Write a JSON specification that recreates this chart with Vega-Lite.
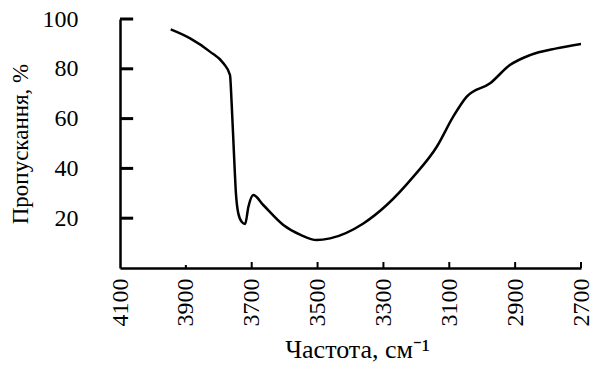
{
  "$schema": "https://vega.github.io/schema/vega-lite/v6.json",
  "autosize": {"type": "none"},
  "width": 461,
  "height": 249,
  "padding": {"left": 120, "top": 19, "right": 21, "bottom": 99},
  "background": "white",
  "config": {"view": {"stroke": null}, "font": "Liberation Serif"},
  "datasets": {
    "curve": [
      {"v": 3946, "t": 95.8},
      {"v": 3887, "t": 92.2},
      {"v": 3827, "t": 86.9},
      {"v": 3786, "t": 82.2},
      {"v": 3766, "t": 77.5},
      {"v": 3761, "t": 66.3},
      {"v": 3754, "t": 46.2},
      {"v": 3748, "t": 30.1},
      {"v": 3741, "t": 22.1},
      {"v": 3730, "t": 18.5},
      {"v": 3720, "t": 17.7},
      {"v": 3710, "t": 24.6},
      {"v": 3695, "t": 29.3},
      {"v": 3665, "t": 25.3},
      {"v": 3604, "t": 17.3},
      {"v": 3550, "t": 13.2},
      {"v": 3503, "t": 11.2},
      {"v": 3462, "t": 11.9},
      {"v": 3361, "t": 17.9},
      {"v": 3290, "t": 25.3},
      {"v": 3209, "t": 36.7},
      {"v": 3138, "t": 48.7},
      {"v": 3088, "t": 60.8},
      {"v": 3047, "t": 68.8},
      {"v": 2976, "t": 74.2},
      {"v": 2916, "t": 81.5},
      {"v": 2855, "t": 85.5},
      {"v": 2774, "t": 88.2},
      {"v": 2698, "t": 90.0}
    ],
    "yticks": [
      {"t": 20, "xa": 4100, "xb": 4060},
      {"t": 40, "xa": 4100, "xb": 4060},
      {"t": 60, "xa": 4100, "xb": 4060},
      {"t": 80, "xa": 4100, "xb": 4060},
      {"t": 100, "xa": 4100, "xb": 4060}
    ],
    "xticks": [
      {"v": 3900, "ya": 0, "yb": 1.2},
      {"v": 3700, "ya": 0, "yb": 2.4},
      {"v": 3500, "ya": 0, "yb": 2.4},
      {"v": 3300, "ya": 0, "yb": 2.4},
      {"v": 3100, "ya": 0, "yb": 2.4},
      {"v": 2900, "ya": 0, "yb": 2.4},
      {"v": 2700, "ya": 0, "yb": 2.4}
    ]
  },
  "layer": [
    {
      "data": {"name": "yticks"},
      "mark": {"type": "rule", "color": "black", "strokeWidth": 3},
      "encoding": {
        "y": {"field": "t", "type": "quantitative"},
        "x": {"field": "xa", "type": "quantitative"},
        "x2": {"field": "xb"}
      }
    },
    {
      "data": {"name": "xticks"},
      "mark": {"type": "rule", "color": "black", "strokeWidth": 2},
      "encoding": {
        "x": {"field": "v", "type": "quantitative"},
        "y": {"field": "ya", "type": "quantitative"},
        "y2": {"field": "yb"}
      }
    },
    {
      "data": {"name": "curve"},
      "mark": {"type": "line", "color": "black", "strokeWidth": 2.5, "interpolate": "monotone", "clip": true},
      "encoding": {
        "x": {
          "field": "v", "type": "quantitative",
          "scale": {"domain": [2700, 4100], "reverse": true, "nice": false, "zero": false},
          "axis": {
            "values": [4100, 3900, 3700, 3500, 3300, 3100, 2900, 2700],
            "format": "d",
            "title": "Частота, см⁻¹",
            "titleFont": "Liberation Serif", "titleFontSize": 26, "titleFontWeight": "normal", "titleColor": "black",
            "titlePadding": 10,
            "titleX": 237,
            "labelFont": "Liberation Serif", "labelFontSize": 24, "labelColor": "black",
            "labelAngle": -90, "labelAlign": "right", "labelBaseline": "middle",
            "labelPadding": 10,
            "ticks": false,
            "domainColor": "black", "domainWidth": 2.5,
            "grid": false
          }
        },
        "y": {
          "field": "t", "type": "quantitative",
          "scale": {"domain": [0, 100], "nice": false},
          "axis": {
            "values": [20, 40, 60, 80, 100],
            "title": "Пропускання, %",
            "titleFont": "Liberation Serif", "titleFontSize": 23, "titleFontWeight": "normal", "titleColor": "black",
            "titlePadding": 10,
            "labelFont": "Liberation Serif", "labelFontSize": 24, "labelColor": "black",
            "labelPadding": 42,
            "ticks": false,
            "domainColor": "black", "domainWidth": 2.5,
            "grid": false
          }
        }
      }
    }
  ]
}
